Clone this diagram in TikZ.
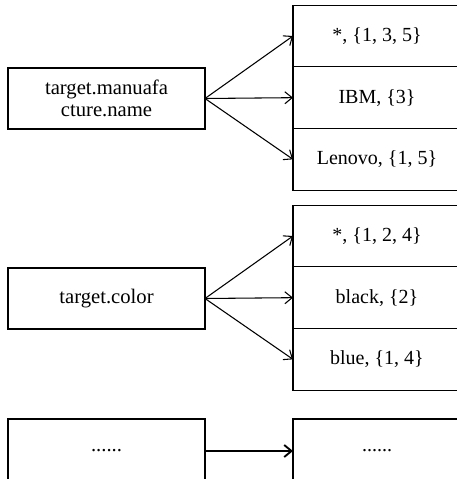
\documentclass[tikz,border=0pt]{standalone}
\usepackage{fontspec}
\setmainfont{Liberation Serif}
\usepackage{tikz}
\usetikzlibrary{positioning,arrows.meta}

\tikzset{
  keybox/.style={draw,line width=0.9pt,minimum width=147.75pt,minimum height=45.75pt,
    inner sep=0pt,outer sep=0pt,align=center,font=\fontsize{15.5}{16.5}\selectfont},
  valcell/.style={draw,line width=0.9pt,minimum width=126pt,minimum height=46.25pt,
    inner sep=0pt,outer sep=0pt,font=\fontsize{15}{16.5}\selectfont},
  fanarrow/.style={-{Straight Barb[length=5.5pt,width=9pt]},line width=0.8pt}
}

\begin{document}
\begin{tikzpicture}[x=0.75pt,y=0.75pt,yscale=-1,xscale=1]
\useasboundingbox (0,0) rectangle (457,479);
\clip (0,0) rectangle (457,479);
% first attribute
\node[keybox] (manu) at (106.5,98.5) {target.manuafa\\cture.name};
\node[valcell] (manuall) at (377,36) {*, \{1, 3, 5\}};
\node[valcell,below=0pt of manuall] (ibm) {IBM, \{3\}};
\node[valcell,below=0pt of ibm] (lenovo) {Lenovo, \{1, 5\}};
\draw[fanarrow] (manu.east) -- (manuall.west);
\draw[fanarrow] (manu.east) -- (ibm.west);
\draw[fanarrow] (manu.east) -- (lenovo.west);
% second attribute
\node[keybox] (color) at (106.5,298.5) {target.color};
\node[valcell] (colorall) at (377,236) {*, \{1, 2, 4\}};
\node[valcell,below=0pt of colorall] (black) {black, \{2\}};
\node[valcell,below=0pt of black] (blue) {blue, \{1, 4\}};
\draw[fanarrow] (color.east) -- (colorall.west);
\draw[fanarrow] (color.east) -- (black.west);
\draw[fanarrow] (color.east) -- (blue.west);
% further attributes
\node[keybox,minimum height=48pt] (more) at (106.5,451) {......};
\node[valcell,minimum height=48pt] (moreval) at (377,451) {......};
\draw[fanarrow,line width=1.4pt] (more.east) -- (moreval.west);
\end{tikzpicture}
\end{document}
